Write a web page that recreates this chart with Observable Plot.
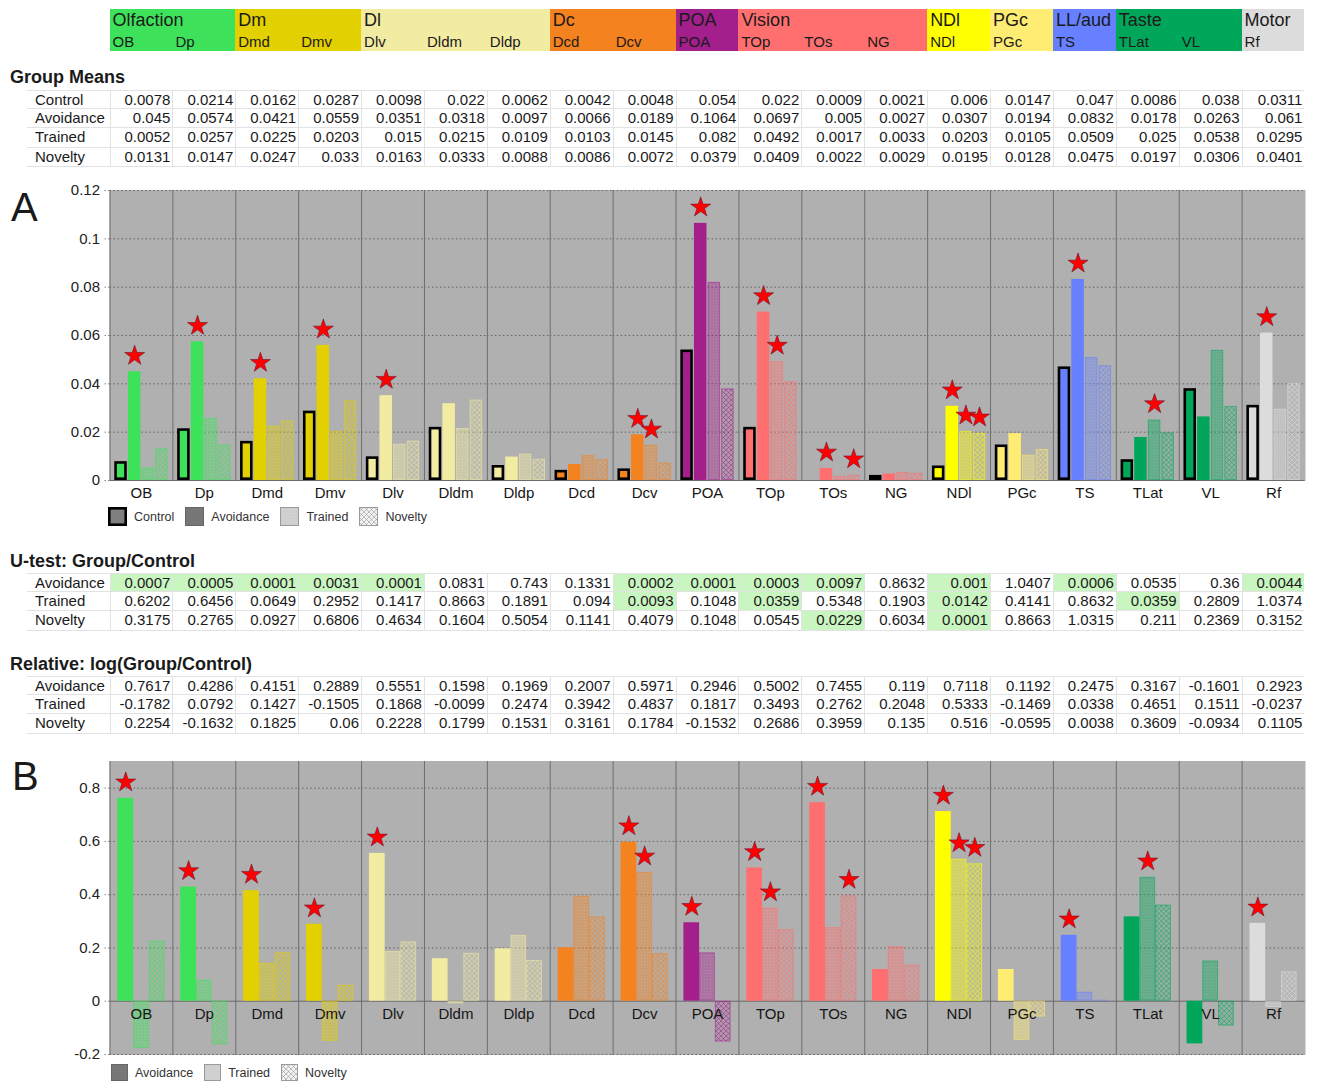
<!DOCTYPE html>
<html>
<head>
<meta charset="utf-8">
<script src="https://cdn.jsdelivr.net/npm/d3@7"></script>
<script src="https://cdn.jsdelivr.net/npm/@observablehq/plot@0.6"></script>
<style>
  body { margin: 0; background: #fff; font-family: "Liberation Sans", Arial, sans-serif; color: #1a1a1a; }
  #page { position: relative; width: 1317px; height: 1083px; overflow: hidden; background: #fff; }
  .band { position: absolute; top: 9px; height: 42px; overflow: hidden; }
  .gname { position: absolute; left: 3px; top: 1px; font-size: 18px; line-height: 20px; white-space: nowrap; }
  .rname { position: absolute; top: 24px; font-size: 15px; line-height: 17px; white-space: nowrap; }
  .ttl { position: absolute; left: 10px; font-weight: bold; font-size: 18px; line-height: 22px; white-space: nowrap; }
  .grid { position: absolute; left: 27px; display: grid; grid-auto-rows: 19.4px; }
  .cell { box-sizing: border-box; border-bottom: 1px solid #e2e2e2; font-size: 15px; line-height: 18.4px; white-space: nowrap; overflow: hidden; }
  .first { border-top: 1px solid #e2e2e2; }
  .num { text-align: right; padding-right: 2px; border-left: 1px solid #e2e2e2; }
  .lab { padding-left: 8px; }
  .hi { background: #c9f5c1; }
  .letter { position: absolute; font-size: 40px; line-height: 40px; }
  .chart { position: absolute; left: 0; }
  .legend { position: absolute; display: flex; align-items: center; font-size: 12.5px; color: #333; }
  .legend .item { display: flex; align-items: center; margin-right: 11px; }
  .legend svg { margin-right: 7px; }
</style>
</head>
<body>
<div id="page"></div>
<script>
// Brain regions (columns) and the sensory/motor systems they belong to
const regions = ["OB","Dp","Dmd","Dmv","Dlv","Dldm","Dldp","Dcd","Dcv","POA","TOp","TOs","NG","NDl","PGc","TS","TLat","VL","Rf"];
const systems = ["Olfaction","Dm","Dl","Dc","POA","Vision","NDl","PGc","LL/aud","Taste","Motor"];
const systemSpan = [2, 2, 3, 2, 1, 3, 1, 1, 1, 2, 1];
const systemColors = ["#3de25a","#e3d000","#f2eba2","#f4821f","#a21f8c","#ff6f6f","#ffff00","#ffec72","#6680ff","#00a659","#dcdcdc"];
const conditions = ["Control","Avoidance","Trained","Novelty"];

// Group means
const meanControl   = [0.0078,0.0214,0.0162,0.0287,0.0098,0.022,0.0062,0.0042,0.0048,0.054,0.022,0.0009,0.0021,0.006,0.0147,0.047,0.0086,0.038,0.0311];
const meanAvoidance = [0.045,0.0574,0.0421,0.0559,0.0351,0.0318,0.0097,0.0066,0.0189,0.1064,0.0697,0.005,0.0027,0.0307,0.0194,0.0832,0.0178,0.0263,0.061];
const meanTrained   = [0.0052,0.0257,0.0225,0.0203,0.015,0.0215,0.0109,0.0103,0.0145,0.082,0.0492,0.0017,0.0033,0.0203,0.0105,0.0509,0.025,0.0538,0.0295];
const meanNovelty   = [0.0131,0.0147,0.0247,0.033,0.0163,0.0333,0.0088,0.0086,0.0072,0.0379,0.0409,0.0022,0.0029,0.0195,0.0128,0.0475,0.0197,0.0306,0.0401];

// U-test p values, group vs control
const pAvoidance = [0.0007,0.0005,0.0001,0.0031,0.0001,0.0831,0.743,0.1331,0.0002,0.0001,0.0003,0.0097,0.8632,0.001,1.0407,0.0006,0.0535,0.36,0.0044];
const pTrained   = [0.6202,0.6456,0.0649,0.2952,0.1417,0.8663,0.1891,0.094,0.0093,0.1048,0.0359,0.5348,0.1903,0.0142,0.4141,0.8632,0.0359,0.2809,1.0374];
const pNovelty   = [0.3175,0.2765,0.0927,0.6806,0.4634,0.1604,0.5054,0.1141,0.4079,0.1048,0.0545,0.0229,0.6034,0.0001,0.8663,1.0315,0.211,0.2369,0.3152];

// Relative change, log(group/control)
const relAvoidance = [0.7617,0.4286,0.4151,0.2889,0.5551,0.1598,0.1969,0.2007,0.5971,0.2946,0.5002,0.7455,0.119,0.7118,0.1192,0.2475,0.3167,-0.1601,0.2923];
const relTrained   = [-0.1782,0.0792,0.1427,-0.1505,0.1868,-0.0099,0.2474,0.3942,0.4837,0.1817,0.3493,0.2762,0.2048,0.5333,-0.1469,0.0338,0.4651,0.1511,-0.0237];
const relNovelty   = [0.2254,-0.1632,0.1825,0.06,0.2228,0.1799,0.1531,0.3161,0.1784,-0.1532,0.2686,0.3959,0.135,0.516,-0.0595,0.0038,0.3609,-0.0934,0.1105];

const meanTicks = [0, 0.02, 0.04, 0.06, 0.08, 0.1, 0.12];
const relTicks = [-0.2, 0, 0.2, 0.4, 0.6, 0.8];
const alpha = 0.05;

// Layout: shared column grid for header, tables and charts
const X0 = 109.5, XR = 12.5, W = 1317;
const COL = (W - X0 - XR) / regions.length;
const regionSystem = systemSpan.flatMap((n, k) => Array(n).fill(k));

const page = document.getElementById("page");
function add(tag, cls, parent = page) {
  const e = document.createElement(tag);
  if (cls) e.className = cls;
  parent.appendChild(e);
  return e;
}

// Fill patterns: stippled for Trained, cross-hatched for Novelty, one per system colour
const NS = "http://www.w3.org/2000/svg";
const defsSvg = d3.select(page).append("svg").attr("width", 0).attr("height", 0)
  .style("position", "absolute").style("left", 0).style("top", 0);
const defs = defsSvg.append("defs");
function trainedPattern(id, color, op) {
  const p = defs.append("pattern").attr("id", id).attr("patternUnits", "userSpaceOnUse").attr("width", 3).attr("height", 3);
  p.append("rect").attr("width", 3).attr("height", 3).attr("fill", color).attr("fill-opacity", op);
  p.append("rect").attr("width", 1).attr("height", 1).attr("fill", "#fff").attr("fill-opacity", 0.14);
}
function noveltyPattern(id, color, bg, bgop) {
  const p = defs.append("pattern").attr("id", id).attr("patternUnits", "userSpaceOnUse").attr("width", 5).attr("height", 5);
  p.append("rect").attr("width", 5).attr("height", 5).attr("fill", bg).attr("fill-opacity", bgop);
  p.append("path").attr("d", "M-1,-1L6,6M6,-1L-1,6").attr("stroke", color).attr("stroke-opacity", 0.75).attr("stroke-width", 0.7).attr("fill", "none");
}
systemColors.forEach((c, k) => { trainedPattern(`tr${k}`, c, 0.42); noveltyPattern(`nv${k}`, c, c, 0.16); });
trainedPattern("lgTr", "#a8a8a8", 0.55);
noveltyPattern("lgNv", "#8a8a8a", "#f2f2f2", 1);

// Header band of systems and regions
{
  let col = 0;
  systems.forEach((s, k) => {
    const b = add("div", "band");
    b.style.left = (X0 + col * COL) + "px";
    b.style.width = (systemSpan[k] * COL) + "px";
    b.style.background = systemColors[k];
    const g = add("div", "gname", b); g.textContent = s;
    for (let j = 0; j < systemSpan[k]; j++) {
      const r = add("div", "rname", b);
      r.textContent = regions[col + j];
      r.style.left = (j * COL + 3) + "px";
    }
    col += systemSpan[k];
  });
}

// Number tables
function dataTable(title, titleTop, top, labels, series, highlight) {
  const t = add("div", "ttl"); t.textContent = title; t.style.top = titleTop + "px";
  const g = add("div", "grid");
  g.style.top = top + "px";
  g.style.gridTemplateColumns = `${X0 - 27}px repeat(${regions.length}, ${COL}px)`;
  labels.forEach((lab, r) => {
    const c = add("div", "cell lab", g); c.textContent = lab;
    if (r === 0) c.classList.add("first");
    series[r].forEach(v => {
      const d = add("div", "cell num", g);
      d.textContent = String(v);
      if (r === 0) d.classList.add("first");
      if (highlight && highlight(v)) d.classList.add("hi");
    });
  });
}
dataTable("Group Means", 66, 89.5, conditions, [meanControl, meanAvoidance, meanTrained, meanNovelty]);
dataTable("U-test: Group/Control", 550, 572.5, conditions.slice(1), [pAvoidance, pTrained, pNovelty], v => v < alpha);
dataTable("Relative: log(Group/Control)", 653, 675.5, conditions.slice(1), [relAvoidance, relTrained, relNovelty]);

// Panel letters
const la = add("div", "letter"); la.textContent = "A"; la.style.left = "11px"; la.style.top = "187px";
const lb = add("div", "letter"); lb.textContent = "B"; lb.style.left = "12px"; lb.style.top = "756px";

// Long-format rows for the bar charts
const means = {Control: meanControl, Avoidance: meanAvoidance, Trained: meanTrained, Novelty: meanNovelty};
const pvals = {Control: null, Avoidance: pAvoidance, Trained: pTrained, Novelty: pNovelty};
const rels = {Avoidance: relAvoidance, Trained: relTrained, Novelty: relNovelty};
const rowsA = regions.flatMap((r, i) => conditions.map(c => ({
  region: r, cond: c, value: means[c][i], p: pvals[c] ? pvals[c][i] : 1, sys: regionSystem[i]
})));
const rowsB = regions.flatMap((r, i) => conditions.slice(1).map(c => ({
  region: r, cond: c, value: rels[c][i], p: pvals[c][i], sys: regionSystem[i]
})));

function barMarks(rows) {
  const of = c => rows.filter(d => d.cond === c);
  const base = {fx: "region", x: "cond", y: "value"};
  return [
    Plot.rectY(of("Control"), {...base, fill: d => systemColors[d.sys], stroke: "#000", strokeWidth: 2.6, inset: 1.3}),
    Plot.rectY(of("Avoidance"), {...base, fill: d => systemColors[d.sys]}),
    Plot.rectY(of("Trained"), {...base, fill: d => `url(#tr${d.sys})`, stroke: d => systemColors[d.sys], strokeOpacity: 0.55, inset: 0.5}),
    Plot.rectY(of("Novelty"), {...base, fill: d => `url(#nv${d.sys})`, stroke: d => systemColors[d.sys], strokeOpacity: 0.55, inset: 0.5})
  ];
}

function chart({rows, conds, ticks, domain, height, marginBottom, xPadding}) {
  return Plot.plot({
    width: W, height,
    marginTop: 10, marginBottom, marginLeft: X0, marginRight: XR,
    fx: {domain: regions, padding: 0, round: false, axis: null, label: null},
    x: {domain: conds, ...xPadding, round: false, axis: null, label: null},
    y: {domain, label: null},
    color: {type: "identity"},
    style: {fontFamily: '"Liberation Sans", Arial, sans-serif', fontSize: "15px", color: "#222", background: "transparent", overflow: "visible"},
    marks: [
      Plot.frame({fill: "#b0b0b0", stroke: "#b0b0b0"}),
      Plot.ruleY(ticks.filter(t => t !== 0), {stroke: "#4a4a4a", strokeOpacity: 0.75, strokeDasharray: "1.5,2.5"}),
      Plot.frame({anchor: "left", stroke: "#6e6e6e"}),
      Plot.ruleY([0], {stroke: "#6a6a6a"}),
      Plot.axisY({ticks, tickFormat: d => String(d), tickSize: 7, tickPadding: 3, fontSize: 15, fill: "#222", stroke: "#8a8a8a", strokeDasharray: "1.5,2", label: null}),
      ...barMarks(rows),
      Plot.dot(rows.filter(d => d.p < alpha), {
        fx: "region", x: "cond", y: "value", symbol: "star", r: 6.3,
        fill: "#ff0000", stroke: "#6b1530", strokeWidth: 0.6, dy: -16
      }),
      Plot.text(regions, {fx: d => d, y: () => 0, text: d => d, dy: 13, fontSize: 15, fill: "#151515"})
    ]
  });
}

// A: group means
const wrapA = add("div", "chart"); wrapA.style.top = "180px";
wrapA.appendChild(chart({
  rows: rowsA, conds: conditions, ticks: meanTicks, domain: [0, 0.12],
  height: 325, marginBottom: 25, xPadding: {paddingInner: 0.08, paddingOuter: 0.35}
}));

// B: relative change
const wrapB = add("div", "chart"); wrapB.style.top = "751px";
wrapB.appendChild(chart({
  rows: rowsB, conds: conditions.slice(1), ticks: relTicks, domain: [-0.2, 0.9],
  height: 311, marginBottom: 8, xPadding: {paddingInner: 0, paddingOuter: 0.5}
}));

// Legends
const swatchStyle = {
  Control:   {fill: "#7f7f7f", stroke: "#000", sw: 2.6},
  Avoidance: {fill: "#777777", stroke: "#666", sw: 1},
  Trained:   {fill: "url(#lgTr)", stroke: "#9a9a9a", sw: 1},
  Novelty:   {fill: "url(#lgNv)", stroke: "#9a9a9a", sw: 1}
};
function legend(items, left, top, size) {
  const lg = add("div", "legend");
  lg.style.left = left + "px"; lg.style.top = top + "px";
  items.forEach(name => {
    const it = add("div", "item", lg);
    const s = d3.select(it).append("svg").attr("width", size).attr("height", size);
    const st = swatchStyle[name];
    s.append("rect").attr("x", st.sw / 2).attr("y", st.sw / 2)
      .attr("width", size - st.sw).attr("height", size - st.sw)
      .attr("fill", st.fill).attr("stroke", st.stroke).attr("stroke-width", st.sw);
    const t = add("span", null, it); t.textContent = name;
  });
}
legend(conditions, 108, 507, 19);
legend(conditions.slice(1), 111, 1064, 17);
</script>
</body>
</html>
